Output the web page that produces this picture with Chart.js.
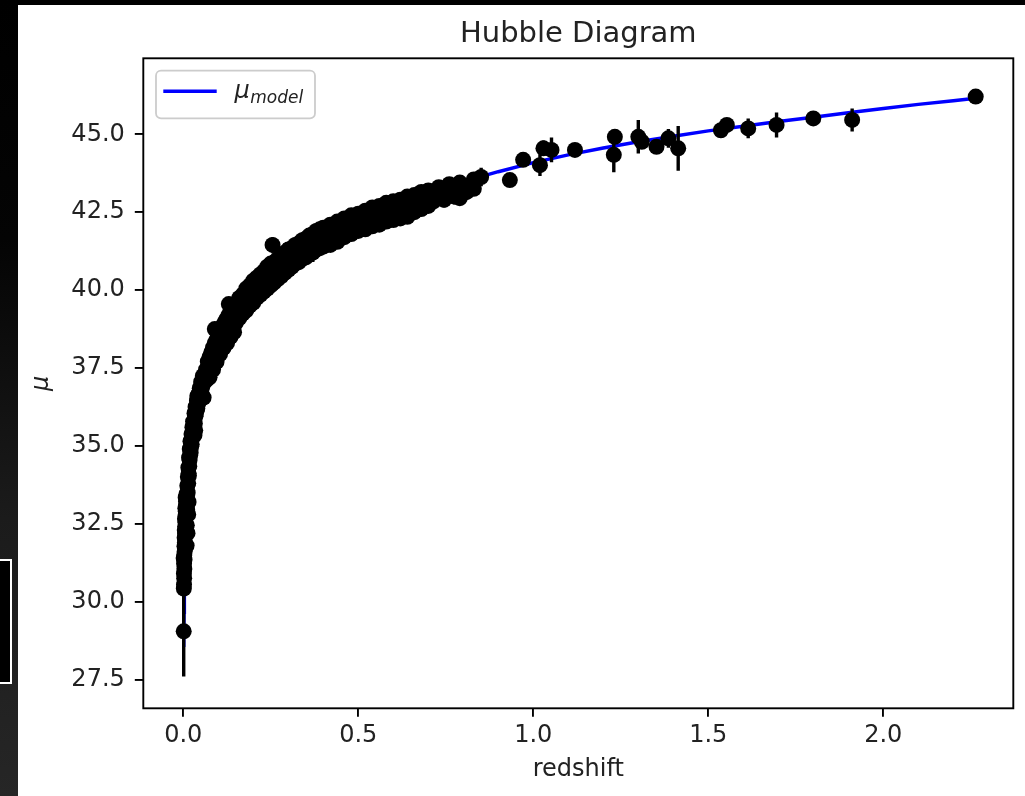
<!DOCTYPE html>
<html><head><meta charset="utf-8">
<script src="https://cdn.jsdelivr.net/npm/chart.js@4/dist/chart.umd.min.js"></script>
<style>
html,body{margin:0;padding:0;background:#000;width:1025px;height:796px;overflow:hidden}
#strip{position:absolute;left:0;top:0;width:18px;height:796px;background:linear-gradient(#000 0%,#040404 30%,#1b1b1b 65%,#262626 100%)}
#win{position:absolute;left:0;top:559px;width:10px;height:121px;border:2px solid #fff;border-left:none;background:#000}
#fig{position:absolute;left:18px;top:5px;width:1007px;height:791px;background:#fff}
#c{position:absolute;left:0;top:0}
</style></head><body>
<div id="strip"></div><div id="win"></div><div id="fig"></div>
<canvas id="c" width="1025" height="796"></canvas>
<script>
// ---------- data ----------
const xTicks = [0.0, 0.5, 1.0, 1.5, 2.0];
const yTicks = [27.5, 30.0, 32.5, 35.0, 37.5, 40.0, 42.5, 45.0];

// model distance modulus curve
const modelZ  = [0.0012,0.002,0.003,0.005,0.008,0.01,0.015,0.02,0.03,0.04,0.05,0.06,0.07,0.08,0.1,0.12,0.15,0.2,0.25,0.3,0.35,0.4,0.45,0.5,0.55,0.6,0.65,0.7,0.75,0.8,0.85,0.9,1.0,1.1,1.2,1.3,1.4,1.5,1.6,1.7,1.8,1.9,2.0,2.1,2.2,2.264];
const modelMu = [28.55,29.66,30.54,31.66,32.69,33.17,34.06,34.69,35.59,36.23,36.73,37.14,37.50,37.80,38.32,38.74,39.27,39.96,40.50,40.96,41.34,41.68,41.99,42.26,42.51,42.74,42.95,43.15,43.32,43.48,43.64,43.80,44.09,44.34,44.56,44.76,44.94,45.11,45.26,45.41,45.55,45.69,45.83,45.96,46.08,46.16];

// low-redshift supernovae
const lowZ = [
0.0012,0.0015,0.0020,0.0025,0.0018,0.0030,0.0022,0.0035,0.0028,0.0040,
0.0010,0.0033,0.0045,0.0038,0.0095,0.0050,0.0042,0.0055,0.0100,0.0060,
0.0048,0.0065,0.0070,0.0058,0.0110,0.0075,0.0080,0.0068,0.0090,0.0105,
0.0125,0.0115,0.0140,0.0130,0.0150,0.0160,0.0145,0.0170,0.0180,0.0165,
0.0195,0.0210,0.0185,0.0225,0.0240,0.0205,0.0255,0.0235,0.0270,0.0285,
0.0260,0.0300,0.0280,0.0315,0.0330,0.0345,0.0320,0.0360,0.0380,0.0350,
0.0400,0.0420,0.0390,0.0440,0.0460,0.0430,0.0480,0.0500,0.0470,0.0520,
0.0545,0.0510,0.0570,0.0600,0.0560,0.0620,0.0550,0.0400,
0.0150,0.0140,0.0320,0.0340,0.0580,0.0120];
const lowMu = [
29.05,30.42,30.55,30.75,30.90,31.05,31.22,31.35,31.50,31.62,
31.40,31.78,31.90,32.05,31.80,32.18,32.30,32.42,32.45,32.55,
32.66,32.78,32.90,33.00,32.95,33.10,33.22,33.34,33.45,33.35,
33.50,33.72,33.80,34.00,34.12,34.05,34.30,34.35,34.55,34.62,
34.70,34.78,34.90,34.98,35.05,35.15,35.25,35.38,35.42,35.50,
35.60,35.62,35.78,35.80,35.72,35.95,36.05,36.02,36.15,36.25,
36.20,36.35,36.45,36.42,36.55,36.65,36.62,36.72,36.85,36.80,
36.92,37.05,37.00,37.12,37.25,37.22,36.60,36.60,
33.20,32.80,35.35,35.50,36.55,32.20];
const lowErr = [
1.45,0.35,0.25,0.20,0.30,0.20,0.25,0.20,0.20,0.15,
0.30,0.20,0.15,0.20,0.20,0.15,0.20,0.15,0.20,0.15,
0.15,0.15,0.15,0.15,0.20,0.15,0.15,0.15,0.15,0.15,
0.15,0.20,0.15,0.15,0.15,0.15,0.20,0.15,0.15,0.15,
0.15,0.15,0.20,0.15,0.15,0.20,0.15,0.15,0.15,0.15,
0.20,0.15,0.15,0.15,0.15,0.15,0.20,0.15,0.15,0.15,
0.15,0.15,0.20,0.15,0.15,0.15,0.15,0.15,0.20,0.15,
0.15,0.15,0.15,0.15,0.20,0.15,0.15,0.15,
0.15,0.15,0.15,0.15,0.15,0.15];

// dense band: one redshift per group, several moduli per group
const bandZ = [
0.065,0.07,0.075,0.08,0.085,0.09,0.095,0.10,0.105,0.11,0.115,0.12,0.125,0.13,0.135,0.14,0.145,
0.15,0.155,0.16,0.165,0.17,0.175,0.18,0.185,0.19,0.195,0.20,0.205,0.21,0.215,0.22,0.225,0.23,0.235,0.24,0.245,
0.25,0.255,0.26,0.265,0.27,0.275,0.28,0.285,0.29,0.295,0.30,0.305,0.31,0.315,0.32,0.325,0.33,0.335,0.34,0.345,
0.35,0.355,0.36,0.365,0.37,0.375,0.38,0.385,0.39,0.395,0.40,
0.41,0.42,0.43,0.44,0.45,0.46,0.47,0.48,0.49,0.50,0.51,0.52,0.53,0.54,0.55,0.56,0.57,0.58,0.59,0.60,
0.61,0.62,0.63,0.64,0.65,0.66,0.67,0.68,0.69,0.70,0.715,0.73,0.745,0.76,0.775,0.79,0.81,0.83];
const bandMu = [
[37.45,37.10],[37.30,37.70],[37.85,37.50,37.20],[37.60,38.00],[38.15,37.75,37.45],[37.90,38.30,38.75],[38.40,38.00,37.70],[38.15,38.55],[38.65,38.25,37.95],[38.35,38.80],[38.90,38.45,38.15],[38.55,39.00],[39.10,38.60,38.30],[38.70,39.20,39.55],[39.30,38.80,38.50],[38.85,39.35],[39.45,38.95,38.65],
[39.55,39.20,38.95],[39.35],[39.75,39.10],[39.55,39.30],[39.85,39.45,39.25],[39.70],[40.05,39.60,39.35],[39.85],[40.15,39.75,39.50],[39.95],[40.30,39.85,39.60],[40.10],[40.40,39.95,39.75],[40.20],[40.50,40.10,39.85],[40.30],[40.60,40.20,39.95],[40.45],[40.75,40.30,40.05],[40.55],
[40.85,40.40,40.15],[41.45,40.65],[40.90,40.50,40.25],[40.75],[41.00,40.60,40.35],[40.85],[41.10,40.70,40.45],[40.90],[41.20,40.80,40.55],[41.00],[41.30,40.90,40.65],[41.10],[41.35,41.00,40.75],[41.20],[41.45,41.05,40.85],[41.25],[41.50,41.15,40.90],[41.30],[41.60,41.20,41.00],[41.40],
[41.65,41.30,41.05],[41.45],[41.75,41.35,41.15],[41.55],[41.80,41.45,41.20],[41.60],[41.90,41.50,41.30],[41.65],[41.95,41.55,41.35],[41.75],[42.00,41.65,41.40],
[41.95,41.55],[42.10,41.75,41.45],[41.90],[42.20,41.80,41.55],[42.00],[42.30,41.95,41.70],[42.10],[42.40,42.05,41.80],[42.20],[42.45,42.15,41.90],[42.30],[42.55,42.20,41.95],[42.40],[42.65,42.30,42.05],[42.45],[42.70,42.40,42.10],[42.55],[42.80,42.45,42.20],[42.60],[42.85,42.55,42.25],
[42.70],[42.90,42.60,42.30],[42.75],[43.00,42.70,42.35],[42.85],[43.05,42.75,42.50],[42.95],[43.15,42.85,42.60],[43.00],[43.20,42.90,42.70],[43.10,42.85],[43.30,43.00],[43.15,42.90],[43.40,43.05],[43.25,43.00],[43.45,43.10,42.95],[43.35,43.15],[43.55,43.25]];
const bandErr = [
0.15,0.15,0.15,0.15,0.15,0.20,0.15,0.15,0.15,0.15,0.15,0.15,0.15,0.20,0.15,0.15,0.15,
0.15,0.15,0.30,0.15,0.15,0.15,0.15,0.15,0.15,0.15,0.15,0.15,0.15,0.15,0.15,0.15,0.15,0.15,0.15,0.15,
0.15,0.25,0.15,0.15,0.15,0.15,0.15,0.15,0.30,0.15,0.15,0.15,0.30,0.15,0.15,0.15,0.15,0.15,0.15,0.15,
0.15,0.15,0.15,0.15,0.30,0.15,0.15,0.15,0.15,0.15,0.15,
0.15,0.15,0.15,0.20,0.15,0.15,0.15,0.20,0.15,0.15,0.15,0.15,0.15,0.20,0.15,0.15,0.15,0.20,0.15,0.15,
0.15,0.20,0.15,0.15,0.15,0.20,0.15,0.15,0.15,0.20,0.20,0.20,0.25,0.20,0.25,0.20,0.25,0.20];

// high-redshift supernovae
const hzZ   = [0.851,0.933,0.971,1.019,1.029,1.052,1.119,1.230,1.233,1.300,1.310,1.352,1.386,1.414,1.536,1.553,1.614,1.695,1.800,1.911,2.264];
const hzMu  = [43.63,43.53,44.18,44.01,44.55,44.50,44.50,44.34,44.92,44.92,44.76,44.60,44.87,44.55,45.13,45.30,45.19,45.30,45.51,45.46,46.21];
const hzErr = [0.30,0.12,0.15,0.35,0.25,0.40,0.12,0.56,0.15,0.54,0.20,0.20,0.30,0.72,0.20,0.20,0.32,0.40,0.20,0.37,0.10];

// ---------- assemble ----------
const snZ = [], snMu = [], snErr = [];
lowZ.forEach((z,i)=>{snZ.push(z);snMu.push(lowMu[i]);snErr.push(lowErr[i]);});
bandZ.forEach((z,i)=>{bandMu[i].forEach(m=>{snZ.push(z);snMu.push(m);snErr.push(bandErr[i]);});});
hzZ.forEach((z,i)=>{snZ.push(z);snMu.push(hzMu[i]);snErr.push(hzErr[i]);});

const FONT = '"DejaVu Sans", "Liberation Sans", sans-serif';
const SN_INDEX = 1;

const errorBars = {
  id: 'errorBars',
  beforeDatasetDraw(chart, args) {
    if (args.index !== SN_INDEX) return;
    const {ctx, chartArea: a} = chart;
    const x = chart.scales.x, y = chart.scales.y;
    ctx.save();
    ctx.beginPath(); ctx.rect(a.left, a.top, a.width, a.height); ctx.clip();
    ctx.strokeStyle = '#000'; ctx.lineWidth = 3.4; ctx.lineCap = 'butt';
    ctx.beginPath();
    for (let i = 0; i < snZ.length; i++) {
      const px = x.getPixelForValue(snZ[i]);
      ctx.moveTo(px, y.getPixelForValue(snMu[i] - snErr[i]));
      ctx.lineTo(px, y.getPixelForValue(snMu[i] + snErr[i]));
    }
    ctx.stroke();
    ctx.restore();
  }
};

const frameAndLegend = {
  id: 'frameAndLegend',
  afterDraw(chart) {
    const {ctx, chartArea: a} = chart;
    ctx.save();
    ctx.strokeStyle = '#000'; ctx.lineWidth = 1.9;
    ctx.strokeRect(a.left, a.top, a.width, a.height);
    // legend box
    const lx = a.left + 12.7, ly = a.top + 12.4, lw = 159, lh = 47.6;
    ctx.beginPath();
    ctx.roundRect(lx, ly, lw, lh, 5);
    ctx.fillStyle = 'rgba(255,255,255,0.8)'; ctx.fill();
    ctx.strokeStyle = '#cccccc'; ctx.lineWidth = 1.8; ctx.stroke();
    // handle
    ctx.beginPath();
    ctx.moveTo(lx + 7.3, ly + 20.6); ctx.lineTo(lx + 60.7, ly + 20.6);
    ctx.strokeStyle = '#0000ff'; ctx.lineWidth = 3.5; ctx.stroke();
    // label mu_model
    ctx.fillStyle = '#222'; ctx.textBaseline = 'alphabetic'; ctx.textAlign = 'left';
    ctx.font = 'italic 24px ' + FONT;
    ctx.fillText('\u03bc', lx + 78.5, ly + 27.5);
    const w = ctx.measureText('\u03bc').width;
    ctx.font = 'italic 17px ' + FONT;
    ctx.fillText('model', lx + 79 + w, ly + 32.5);
    ctx.restore();
  }
};

new Chart(document.getElementById('c'), {
  type: 'scatter',
  data: {
    datasets: [
      {
        label: '\u03bc model',
        data: modelZ.map((z,i)=>({x:z, y:modelMu[i]})),
        showLine: true, borderColor: '#0000ff', borderWidth: 3.5,
        pointRadius: 0, fill: false, tension: 0, order: 2
      },
      {
        label: 'data',
        data: snZ.map((z,i)=>({x:z, y:snMu[i]})),
        pointRadius: 8, pointBackgroundColor: '#000', pointBorderWidth: 0,
        borderColor: '#000', showLine: false, order: 1
      }
    ]
  },
  options: {
    responsive: false, animation: false, events: [],
    layout: { padding: { top: 0, right: 11.7, bottom: 0, left: 0 } },
    plugins: {
      legend: { display: false },
      tooltip: { enabled: false },
      title: {
        display: true, text: 'Hubble Diagram', fullSize: false, color: '#222',
        font: { family: FONT, size: 29, weight: 'normal', lineHeight: 1.2 },
        padding: { top: 16.6, bottom: 6.9 }
      }
    },
    scales: {
      x: {
        type: 'linear', min: -0.11429, max: 2.37143,
        afterBuildTicks: s => { s.ticks = xTicks.map(v => ({value: v})); },
        afterFit: s => { s.height = 87.7; },
        ticks: { autoSkip: false, maxRotation: 0, minRotation: 0, padding: 5, color: '#222',
                 font: { family: FONT, size: 24 }, callback: v => v.toFixed(1) },
        grid: { display: true, drawOnChartArea: false, drawTicks: true, tickLength: 8.5, color: '#000', lineWidth: 1.9 },
        border: { display: false },
        title: { display: true, text: 'redshift', color: '#222', font: { family: FONT, size: 24 }, padding: { top: 0, bottom: 11.9 } }
      },
      y: {
        type: 'linear', min: 26.579, max: 47.439,
        afterBuildTicks: s => { s.ticks = yTicks.map(v => ({value: v})); },
        afterFit: s => { s.width = 143.3; },
        ticks: { autoSkip: false, padding: 10, color: '#222',
                 font: { family: FONT, size: 24 }, callback: v => v.toFixed(1) },
        grid: { display: true, drawOnChartArea: false, drawTicks: true, tickLength: 8.5, color: '#000', lineWidth: 1.9 },
        border: { display: false },
        title: { display: true, text: '\u03bc', color: '#222', font: { family: FONT, size: 24, style: 'italic' }, padding: { top: 27.4, bottom: 0 } }
      }
    }
  },
  plugins: [errorBars, frameAndLegend]
});
</script>
</body></html>
